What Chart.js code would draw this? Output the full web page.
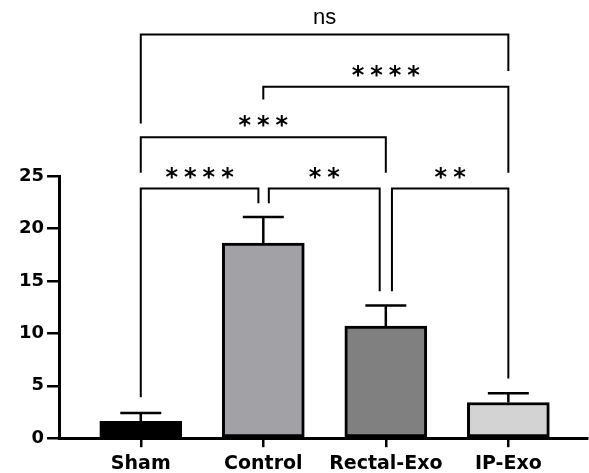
<!DOCTYPE html>
<html>
<head>
<meta charset="utf-8">
<script src="https://cdn.jsdelivr.net/npm/chart.js@4.4.1/dist/chart.umd.min.js"></script>
<style>
  html, body { margin: 0; padding: 0; background: #fff; }
  #chart { display: block; }
</style>
</head>
<body>
<canvas id="chart" width="589" height="473"></canvas>
<script>
// Groups and their means / SEM
const categories = ['Sham', 'Control', 'Rectal-Exo', 'IP-Exo'];
const means = [1.6, 18.6, 10.7, 3.4];
const sems = [0.8, 2.5, 1.95, 0.88];
const yTicks = [0, 5, 10, 15, 20, 25];

// Significance comparisons (group index pairs, label, bracket height in data units)
const sigFrom = [0, 1, 2, 0, 1, 0];
const sigTo = [1, 2, 3, 2, 3, 3];
const sigLabels = ['****', '**', '**', '***', '****', 'ns'];
const sigLevel = [23.8, 23.8, 23.8, 28.7, 33.5, 38.5];
const sigLegFrom = [3.9, 22.4, 14.0, 25.3, 32.3, 30.0];
const sigLegTo = [22.4, 14.0, 5.7, 25.3, 25.3, 35.0];

const barColors = ['#000000', '#a2a1a6', '#808080', '#d3d3d3'];
// small sideways nudges so neighbouring brackets don't touch
const fromNudge = [0, 0.045, 0.05, 0, 0, 0];
const toNudge = [-0.04, -0.05, 0, 0, 0, 0];

const annotations = {
  id: 'annotations',
  afterDatasetsDraw(chart) {
    const ctx = chart.ctx;
    const xs = chart.scales.x;
    const ys = chart.scales.y;
    ctx.save();
    ctx.strokeStyle = '#000';
    ctx.fillStyle = '#000';

    // error bars (upper only)
    ctx.lineWidth = 2.5;
    means.forEach((m, i) => {
      const x = xs.getPixelForValue(i);
      const yTop = ys.getPixelForValue(m);
      const yCap = ys.getPixelForValue(m + sems[i]);
      ctx.beginPath();
      ctx.moveTo(x, yTop);
      ctx.lineTo(x, yCap);
      ctx.moveTo(x - 20.5, yCap);
      ctx.lineTo(x + 20.5, yCap);
      ctx.stroke();
    });

    // brackets
    ctx.lineWidth = 2;
    ctx.lineJoin = 'miter';
    sigLabels.forEach((lab, k) => {
      const x1 = xs.getPixelForValue(sigFrom[k] + fromNudge[k]);
      const x2 = xs.getPixelForValue(sigTo[k] + toNudge[k]);
      const yl = ys.getPixelForValue(sigLevel[k]);
      ctx.beginPath();
      ctx.moveTo(x1, ys.getPixelForValue(sigLegFrom[k]));
      ctx.lineTo(x1, yl);
      ctx.lineTo(x2, yl);
      ctx.lineTo(x2, ys.getPixelForValue(sigLegTo[k]));
      ctx.stroke();

      const cx = (x1 + x2) / 2;
      const cy = yl - 16;
      let spacing = 0;
      if (lab === 'ns') {
        ctx.font = '22px "Liberation Sans", Arial, sans-serif';
      } else {
        ctx.font = 'bold 24px "DejaVu Sans", sans-serif';
        spacing = 6;
      }
      ctx.letterSpacing = spacing + 'px';
      const m = ctx.measureText(lab);
      const w = m.width - spacing;
      ctx.textAlign = 'left';
      ctx.textBaseline = 'alphabetic';
      const base = cy + (m.actualBoundingBoxAscent - m.actualBoundingBoxDescent) / 2;
      ctx.fillText(lab, cx - w / 2, base);
    });
    ctx.restore();
  }
};

new Chart(document.getElementById('chart'), {
  type: 'bar',
  data: {
    datasets: [{
      data: categories.map((c, i) => ({ x: i, y: means[i] })),
      backgroundColor: barColors,
      borderColor: '#000',
      borderWidth: 3,
      borderSkipped: false,
      barThickness: 82
    }]
  },
  options: {
    responsive: false,
    animation: false,
    layout: { padding: { top: 176, left: 16, right: 2, bottom: -7 } },
    plugins: { legend: { display: false }, tooltip: { enabled: false } },
    scales: {
      x: {
        type: 'linear',
        offset: false,
        min: -0.667,
        max: 3.642,
        afterBuildTicks: s => { s.ticks = categories.map((c, i) => ({ value: i })); },
        ticks: {
          callback: v => categories[v],
          autoSkip: false,
          maxRotation: 0,
          color: '#000',
          padding: 5,
          font: { family: '"DejaVu Sans"', weight: 'bold', size: 19 }
        },
        grid: { offset: false, drawOnChartArea: false, drawTicks: true, tickLength: 9, color: '#000', lineWidth: 2.5 },
        border: { color: '#000', width: 3 }
      },
      y: {
        min: 0,
        max: 25,
        afterBuildTicks: s => { s.ticks = yTicks.map(v => ({ value: v })); },
        ticks: {
          color: '#000',
          padding: 3,
          font: { family: '"DejaVu Sans"', weight: 'bold', size: 18 }
        },
        grid: { drawOnChartArea: false, drawTicks: true, tickLength: 12, color: '#000', lineWidth: 2.5 },
        border: { color: '#000', width: 3 }
      }
    }
  },
  plugins: [annotations]
});
</script>
</body>
</html>
